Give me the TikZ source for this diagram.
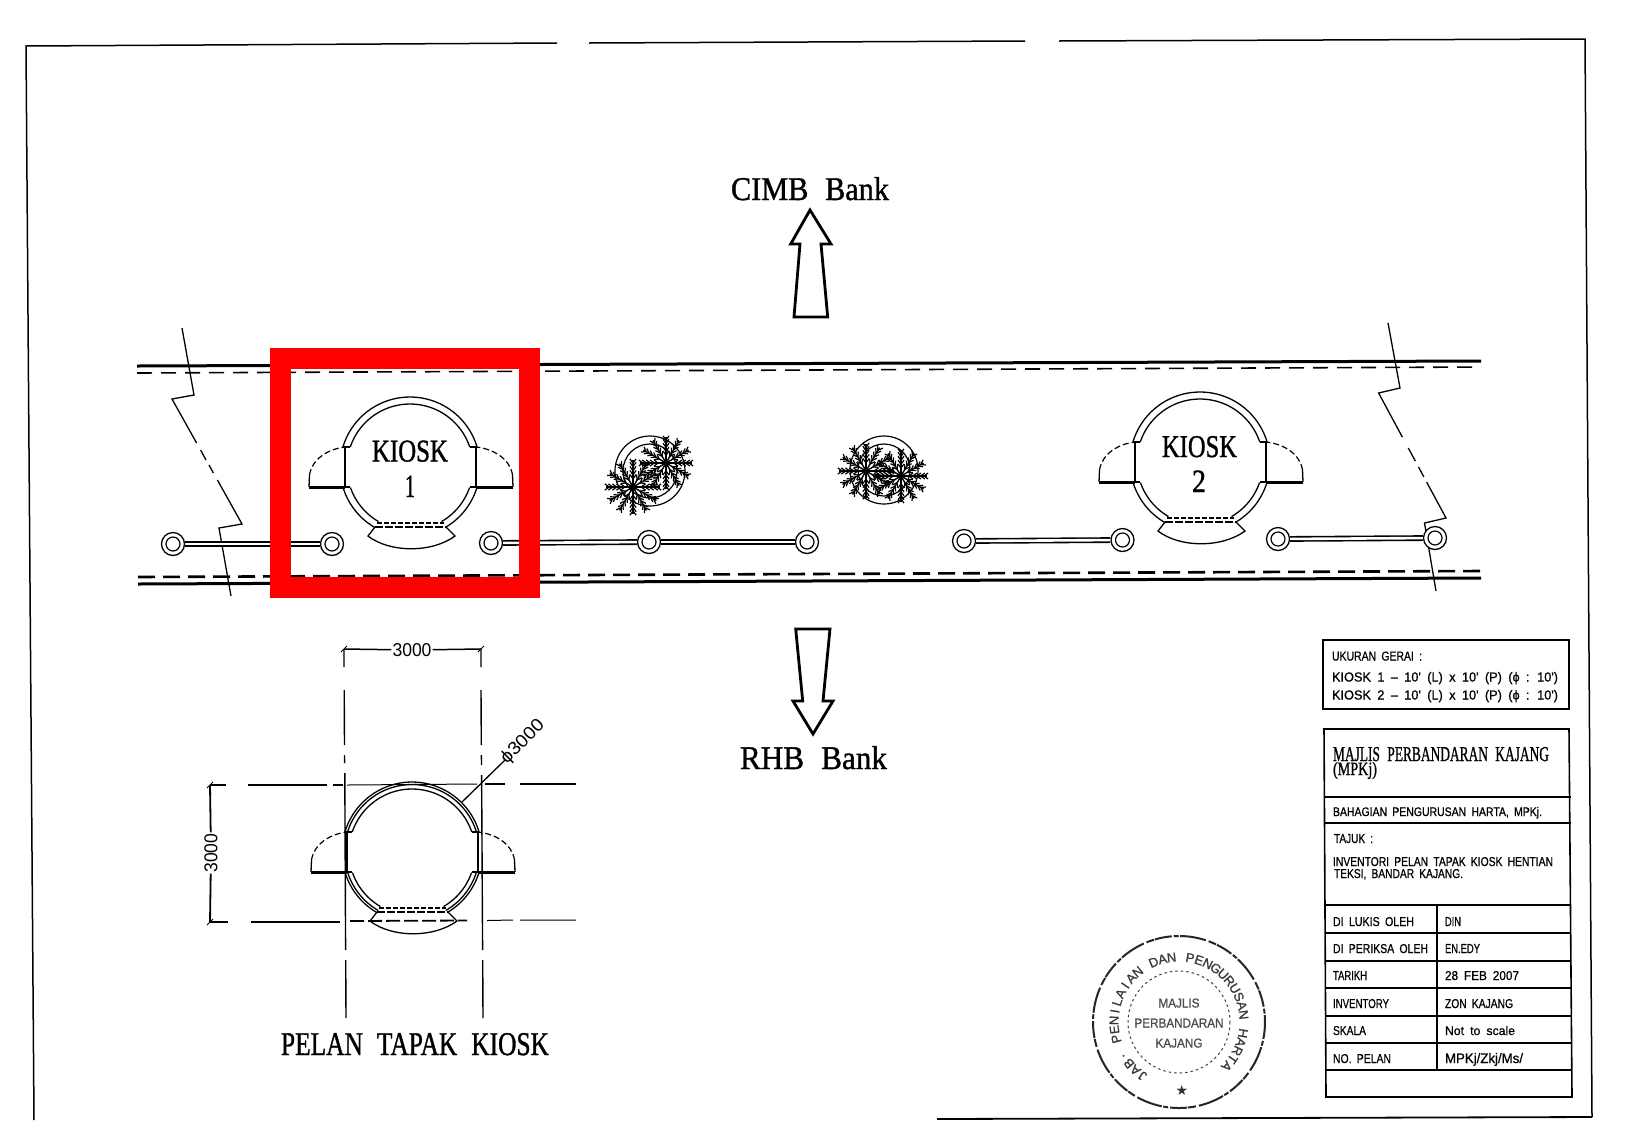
\documentclass[tikz,border=0pt]{standalone}
\usepackage{fontspec}
\usepackage{graphicx}
\setmainfont{Liberation Serif}
\setsansfont{Liberation Sans}
\newfontfamily\symfont{DejaVu Sans}
\newfontfamily\cadR[FakeBold=1.2]{Liberation Serif}
\newfontfamily\cadS[FakeBold=0.8]{Liberation Sans}
\usetikzlibrary{calc}
\newcommand{\fitS}[3]{\resizebox{#1pt}{#2pt}{\cadS\spaceskip=.5em\relax #3}}
\newcommand{\fitD}[3]{\resizebox{#1pt}{#2pt}{\sffamily\spaceskip=.5em\relax #3}}
\newcommand{\fitR}[3]{\resizebox{#1pt}{#2pt}{\cadR\spaceskip=.55em\relax #3}}
\tikzset{
  lbl/.style={anchor=base west,inner sep=0pt,outer sep=0pt},
  mid/.style={anchor=base,inner sep=0pt,outer sep=0pt},
  thinln/.style={line width=1.3pt,black},
  wall/.style={line width=3pt,black},
  cons/.style={line width=1.4pt,black},
  tbl/.style={line width=1.6pt,black},
  swing/.style={line width=1.2pt,black,dash pattern=on 6pt off 3pt},
  postring/.style={circle,draw=black,line width=1.3pt,fill=white,minimum size=23pt,inner sep=0pt},
  postcore/.style={circle,draw=black,line width=1.2pt,minimum size=14pt,inner sep=0pt},
  rail/.style={line width=1.6pt,double=white,double distance=2.6pt,draw=black},
  bigarrow/.style={line width=2.8pt,black,line join=miter},
  ringletter/.style={inner sep=0pt,text=black!78,font=\cadS\fontsize{13}{13}\selectfont},
}
\newcommand{\kioskplan}[2]{%
\begin{scope}[shift={(#1,#2)}]
  \draw[thinln] plot[domain=196.6:343.4,samples=50] ({70*cos(\x)},{70*sin(\x)});
  \draw[thinln] plot[domain=198.5:341.5,samples=50] ({63*cos(\x)},{63*sin(\x)});
  \draw[thinln] plot[domain=163:120,samples=20] ({70*cos(\x)},{70*sin(\x)});
  \draw[thinln] plot[domain=161:120,samples=20] ({63*cos(\x)},{63*sin(\x)});
  \draw[thinln] plot[domain=17:60,samples=20] ({70*cos(\x)},{70*sin(\x)});
  \draw[thinln] plot[domain=19:60,samples=20] ({63*cos(\x)},{63*sin(\x)});
  \draw[line width=2.2pt] (-67,-20) -- (-60,-20) (60,-20) -- (67,-20) (-67,20) -- (-60,20) (60,20) -- (67,20);
  \draw[line width=1.8pt] (-65,-20) -- (-65,20) (66,-20) -- (66,20);
  \draw[wall] (-101,20) -- (-65,20) (66,20) -- (103,20);
  \draw[thinln] (-101,20) -- (-100.5,8) (103,20) -- (102.5,8);
  \draw[swing] (-100.5,8) .. controls (-98,-8) and (-82,-18) .. (-65,-20);
  \draw[swing] (102.5,8) .. controls (100,-8) and (84,-18) .. (66,-20);
  \draw[line width=1.2pt,dash pattern=on 5pt off 2pt] (-33,56) -- (34,56);
  \draw[line width=1.2pt,dash pattern=on 8pt off 2pt] (-35,60) -- (36,60);
  \draw[thinln] (-35,60) -- (-42,69) .. controls (-20,86) and (22,86) .. (45,69) -- (36,60);
\end{scope}}
\newcommand{\burst}[3]{%
\foreach \a in {0,30,...,330}{%
  \draw[line width=1.4pt] (#1,#2) -- +(\a:#3);
  \foreach \t in {.3,.45,.6,.75,.88}{%
    \draw[line width=1.2pt] ($(#1,#2)+(\a:{\t*#3})$) -- +({\a+35}:{.2*#3});
    \draw[line width=1.2pt] ($(#1,#2)+(\a:{\t*#3})$) -- +({\a-35}:{.2*#3});
  }
}}
\begin{document}
\begin{tikzpicture}[x=1pt,y=-1pt]
\useasboundingbox (0,0) rectangle (1632,1120);
\fill[white] (0,0) rectangle (1632,1120);

% sheet frame
\draw[thinln,line width=1.5pt] (34,1120) -- (26,46) -- (557,43);
\draw[thinln,line width=1.5pt] (589,43) -- (1025,41);
\draw[thinln,line width=1.5pt] (1059,41) -- (1585,39) -- (1592,1117);
\draw[thinln,line width=1.8pt] (937,1119) -- (1592,1117);

% bank labels and arrows
\node[mid] (cimb) at (810,200) {\fitR{158}{23}{CIMB Bank}};
\draw[bigarrow] (810,210) -- (831,244) -- (821,244) -- (827.7,317) -- (794,317) -- (800,244) -- (790.7,244) -- cycle;
\draw[bigarrow] (795.7,629) -- (830,629) -- (823,701) -- (833,701) -- (813,734) -- (793,701) -- (802.7,701) -- cycle;
\node[mid] (rhb) at (813.5,769) {\fitR{147}{23}{RHB Bank}};

% road edges
\draw[wall] (137,366) -- (1481,361);
\draw[line width=1.6pt,dash pattern=on 15pt off 9pt] (137,373) -- (1481,367);
\draw[line width=2.6pt,dash pattern=on 17pt off 8pt] (138,577) -- (1481,571);
\draw[wall] (138,584) -- (1481,578);

% break lines
\draw[thinln] (182,328) -- (194,395) -- (172,399) -- (196.6,443);
\draw[thinln] (200.6,450) -- (206,460) (209,465) -- (213.4,473);
\draw[thinln] (217.4,480) -- (242,524) -- (219,528) -- (231,596);
\draw[thinln] (1388,323) -- (1400,388) -- (1378.6,393) -- (1402.3,437);
\draw[thinln] (1408.3,448) -- (1415.3,461) (1418.5,467) -- (1423.9,477);
\draw[thinln] (1426.6,482) -- (1446,518) -- (1424.5,523) -- (1436,591);

% posts and rails
\foreach \n/\px/\py in {pa/173/544,pb/332/544,pc/491/543,pd/649/542,pe/807/542,pf/964/541,pg/1122.5/540,ph/1278/539,pi/1435/538}{
  \node[postring] (\n) at (\px,\py) {};
  \node[postcore] (\n c) at (\px,\py) {};
}
\draw[rail] (pa) -- (pb);
\draw[rail] (pc) -- (pd);
\draw[rail] (pd) -- (pe);
\draw[rail] (pf) -- (pg);
\draw[rail] (ph) -- (pi);

% kiosks on site
\kioskplan{410}{467}
\node[mid] (k1a) at (410,461.5) {\fitR{76}{21}{KIOSK}};
\node[mid] (k1b) at (410,497) {\fitR{10}{21.5}{1}};
\kioskplan{1200}{462}
\node[mid] (k2a) at (1199.5,457) {\fitR{75}{21}{KIOSK}};
\node[mid] (k2b) at (1199,492) {\fitR{14}{21.5}{2}};

% trees
\draw[line width=1.2pt] (650,471) circle[radius=35];
\draw[line width=1.2pt] (650,471) circle[radius=27];
\burst{633}{487}{27}
\burst{666}{463}{26}
\draw[line width=1.2pt] (884,470) circle[radius=34];
\draw[line width=1.2pt] (884,470) circle[radius=26];
\burst{866}{471}{27}
\burst{901}{476}{26}

% red highlight
\draw[red,line width=21pt] (280.3,358.5) rectangle (529.5,587.5);

% kiosk detail plan
\kioskplan{412}{852}
\draw[thinln] plot[domain=196.6:343.4,samples=50] ({412+67.5*cos(\x)},{852+67.5*sin(\x)});
\draw[thinln] plot[domain=163:120,samples=20] ({412+67.5*cos(\x)},{852+67.5*sin(\x)});
\draw[thinln] plot[domain=17:60,samples=20] ({412+67.5*cos(\x)},{852+67.5*sin(\x)});
% construction lines
\draw[cons] (344,649) -- (344,667) (344.2,690) -- (344.5,745) (344.5,755) -- (344.6,763) (344.8,773) -- (345.6,950) (345.7,960) -- (346,1018);
\draw[cons] (481,649) -- (481,667) (481,690) -- (481.3,745) (481.4,755) -- (481.5,765) (481.6,775) -- (482.6,950) (482.7,960) -- (483,1018);
\draw[cons] (210,785) -- (226,785) (248,785) -- (327,785) (333,785) -- (343,785);
\draw[line width=1pt] (347,785) -- (477,784);
\draw[cons] (485,784) -- (505,784) (520,784) -- (576,784);
\draw[cons] (210,922) -- (228,922) (251,922) -- (340,922);
\draw[line width=1.8pt,dash pattern=on 14pt off 4pt] (350,921) -- (467,920.5);
\draw[line width=1pt] (487,920.5) -- (513,920) (520,920) -- (576,920);
% dimensions
\coordinate (dtl) at (344,649);
\coordinate (dtr) at (481,649);
\node[inner sep=1pt,fill=white] (dimt) at (412,650) {\fitD{39}{13}{3000}};
\draw[line width=1.5pt] (dtl) -- (dimt);
\draw[line width=1.5pt] (dimt) -- (dtr);
\coordinate (dlt) at (210,785);
\coordinate (dlb) at (210,922);
\node[inner sep=1pt,fill=white,rotate=90] (diml) at (211,853) {\fitD{39}{13}{3000}};
\draw[line width=1.8pt] (dlt) -- (diml);
\draw[line width=1.8pt] (diml) -- (dlb);
\foreach \c in {dtl,dtr,dlt,dlb}{\draw[line width=1pt] ($(\c)+(-3,3)$) -- ($(\c)+(3,-3)$);}
\node[inner sep=0pt,rotate=45] (dia) at (523,742) {\fitD{54}{13}{ϕ3000}};
\coordinate (diaend) at (462,802);
\draw[thinln] (diaend) -- (505,760);
\node[mid] (title) at (415,1055) {\fitR{268}{22}{PELAN TAPAK KIOSK}};

% size box
\draw[tbl] (1323,640) rectangle (1569,709);
\node[lbl] (u1) at (1332,660.5) {\fitS{90}{9}{UKURAN GERAI :}};
\node[lbl] (u2) at (1332,681.5) {\fitS{226}{9.5}{KIOSK 1 – 10' (L) x 10' (P) (ϕ : 10')}};
\node[lbl] (u3) at (1332,699.5) {\fitS{226}{9.5}{KIOSK 2 – 10' (L) x 10' (P) (ϕ : 10')}};

% title block
\draw[tbl] (1324,729) -- (1569,729) -- (1572,1097) -- (1326,1097) -- cycle;
\foreach \ry in {797,823,905,933,961,988,1016,1043,1070}{
  \draw[tbl] (1325,\ry) -- (1571,\ry);
}
\draw[tbl] (1437,905) -- (1437,1070);
\node[lbl] (m1) at (1333,761) {\fitR{216}{14}{MAJLIS PERBANDARAN KAJANG}};
\node[lbl] (m2) at (1333,775) {\fitR{44}{13}{(MPKj)}};
\node[lbl] (b1) at (1333,816) {\fitS{209}{9}{BAHAGIAN PENGURUSAN HARTA, MPKj.}};
\node[lbl] (t0) at (1334,843) {\fitS{39}{9}{TAJUK :}};
\node[lbl] (t1) at (1333,866) {\fitS{220}{9}{INVENTORI PELAN TAPAK KIOSK HENTIAN}};
\node[lbl] (t2) at (1334,878) {\fitS{129}{9}{TEKSI, BANDAR KAJANG.}};
\node[lbl] (r1a) at (1333,926) {\fitS{81}{9}{DI LUKIS OLEH}};
\node[lbl] (r1b) at (1445,926) {\fitS{16}{9}{DIN}};
\node[lbl] (r2a) at (1333,953) {\fitS{95}{9}{DI PERIKSA OLEH}};
\node[lbl] (r2b) at (1445,953) {\fitS{35}{9}{EN.EDY}};
\node[lbl] (r3a) at (1333,980) {\fitS{34}{9}{TARIKH}};
\node[lbl] (r3b) at (1445,980) {\fitS{74}{9}{28 FEB 2007}};
\node[lbl] (r4a) at (1333,1008) {\fitS{56}{9}{INVENTORY}};
\node[lbl] (r4b) at (1445,1008) {\fitS{68}{9}{ZON KAJANG}};
\node[lbl] (r5a) at (1333,1035) {\fitS{33}{9}{SKALA}};
\node[lbl] (r5b) at (1445,1035) {\fitS{70}{9}{Not to scale}};
\node[lbl] (r6a) at (1333,1063) {\fitS{58}{9}{NO. PELAN}};
\node[lbl] (r6b) at (1445,1063) {\fitS{78}{10}{MPKj/Zkj/Ms/}};

% stamp
\draw[black!85,line width=2pt,dash pattern=on 17pt off 2pt on 5pt off 1.5pt on 26pt off 3pt on 8pt off 1pt] (1179,1022) circle[radius=86];
\draw[black!75,line width=1pt,dash pattern=on 2.5pt off 3pt] (1179,1022) circle[radius=51];
\foreach \ch [count=\i] in {J,A,B,.,~,P,E,N,I,L,A,I,A,N,~,D,A,N,~,P,E,N,G,U,R,U,S,A,N,~,H,A,R,T,A}{
  \pgfmathsetmacro{\a}{236-(\i-1)*8.2}
  \node[ringletter,rotate=\a-90] (sl\i) at ({1179+65*cos(\a)},{1022-65*sin(\a)}) {\ch};
}
\node[inner sep=0pt,text=black!80] (sstar) at (1182,1090) {\symfont\fontsize{14}{14}\selectfont ★};
\node[mid,text=black!70] (s1) at (1179,1007.5) {\fitS{41}{9}{MAJLIS}};
\node[mid,text=black!70] (s2) at (1179,1027.5) {\fitS{89}{9}{PERBANDARAN}};
\node[mid,text=black!70] (s3) at (1179,1047.5) {\fitS{47}{9}{KAJANG}};
\end{tikzpicture}
\end{document}
